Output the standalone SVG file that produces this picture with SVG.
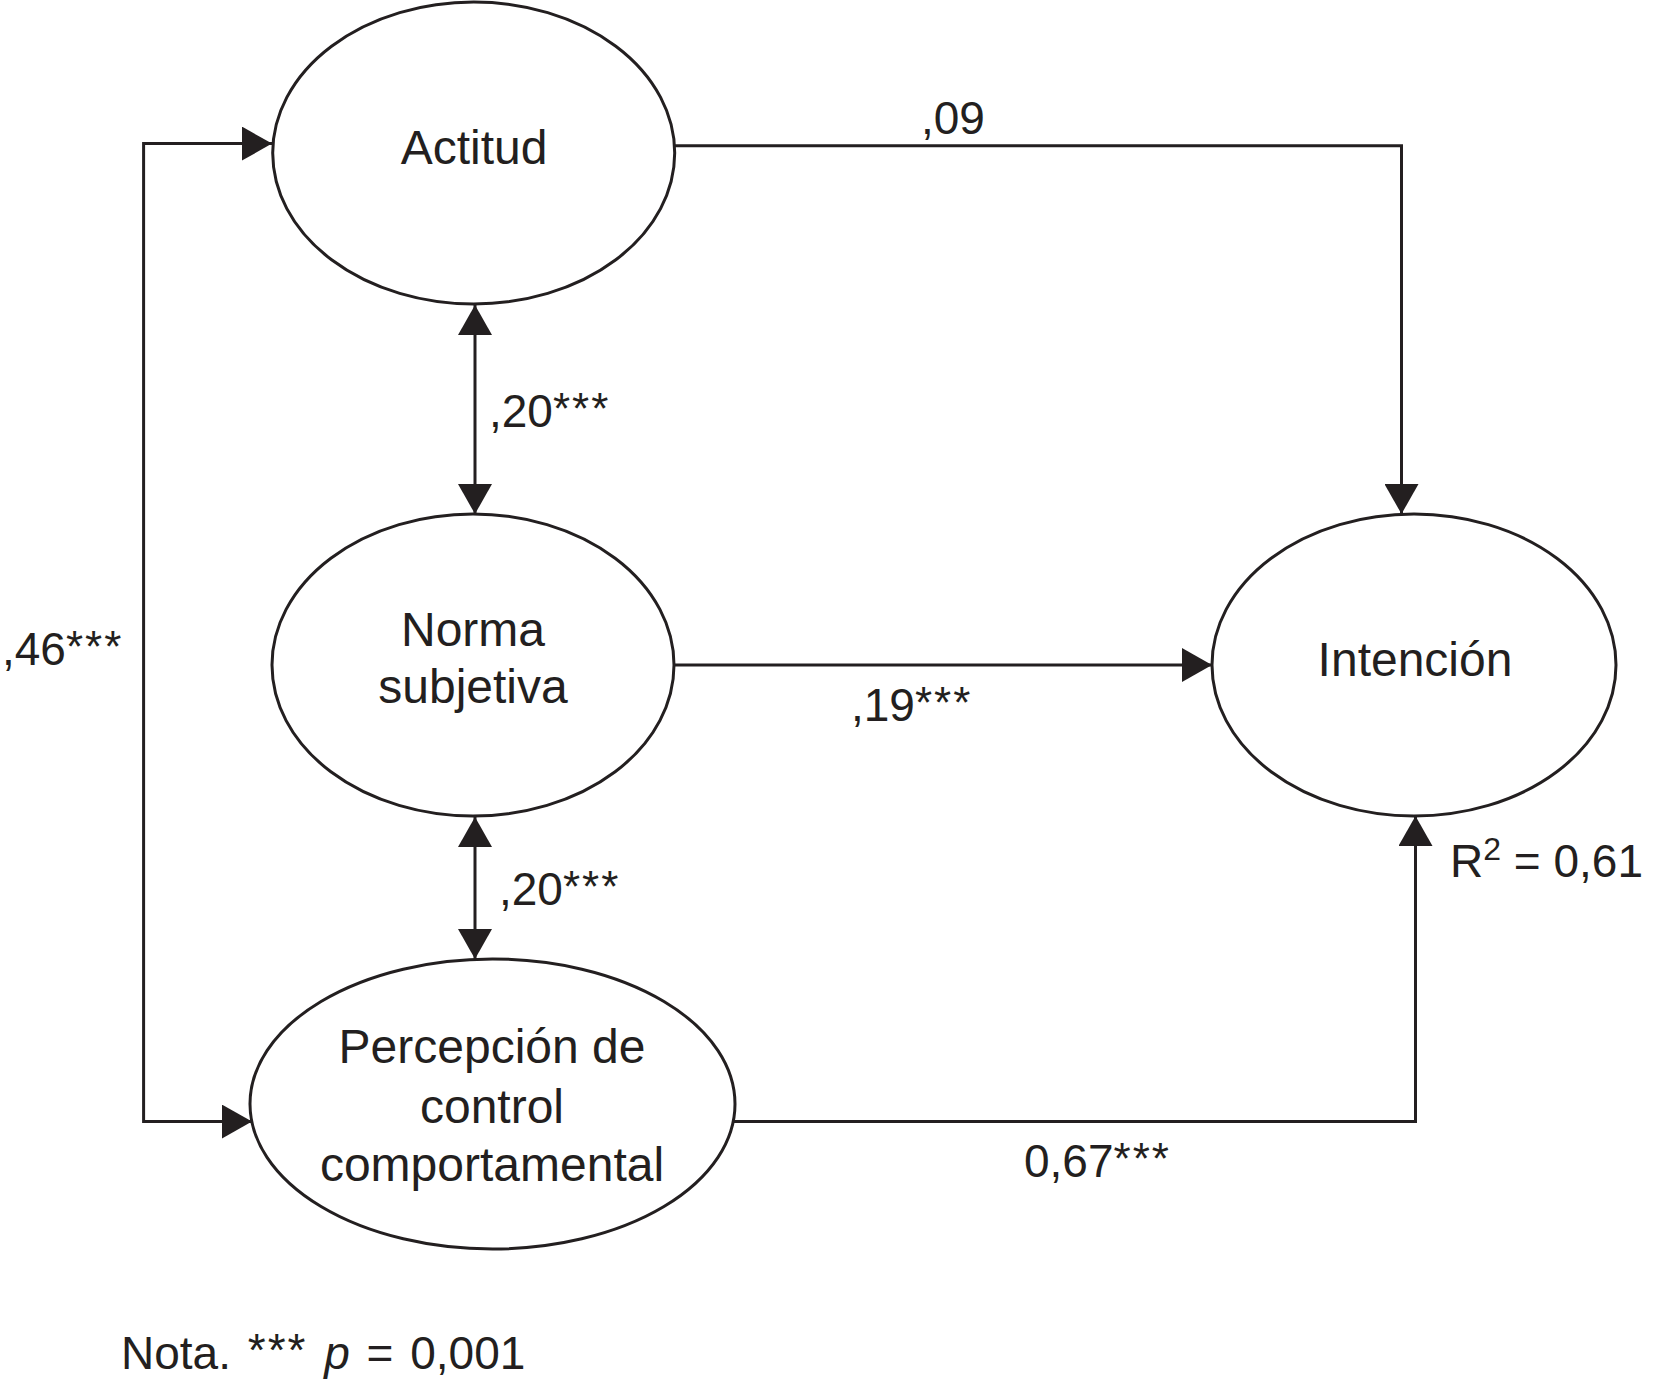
<svg xmlns="http://www.w3.org/2000/svg" width="1656" height="1392" viewBox="0 0 1656 1392">
<style>
.node ellipse{fill:#fff;stroke:#231f20;stroke-width:3}
.nt{font-family:"Liberation Sans",Arial,sans-serif;font-size:48px;fill:#231f20;text-anchor:middle}
.lbl{font-family:"Liberation Sans",Arial,sans-serif;font-size:46px;fill:#231f20}
.ast{font-size:44px;letter-spacing:2px}
#connectors path{fill:none;stroke:#231f20;stroke-width:3}
</style>
<defs>
<marker id="arr" markerUnits="userSpaceOnUse" markerWidth="30" markerHeight="34" refX="30" refY="17" orient="auto-start-reverse">
<path d="M0,0 L30,17 L0,34 z" fill="#231f20"/>
</marker>
</defs>
<rect width="1656" height="1392" fill="#fff"/>
<g id="connectors">
<path d="M272,143.6 H143.6 V1121.6 H252" marker-start="url(#arr)" marker-end="url(#arr)"/>
<path d="M675,145.7 H1401.5 V514" marker-end="url(#arr)"/>
<path d="M475,305 V514" marker-start="url(#arr)" marker-end="url(#arr)"/>
<path d="M674,665 H1212" marker-end="url(#arr)"/>
<path d="M475,817 V959" marker-start="url(#arr)" marker-end="url(#arr)"/>
<path d="M733,1121.6 H1415.5 V816" marker-end="url(#arr)"/>
</g>
<g id="actitud" class="node">
<ellipse cx="473.7" cy="153" rx="201" ry="151"/>
<text class="nt" x="474" y="164">Actitud</text>
</g>
<g id="norma" class="node">
<ellipse cx="473" cy="665" rx="201" ry="151"/>
<text class="nt" x="473" y="646">Norma</text>
<text class="nt" x="473" y="703">subjetiva</text>
</g>
<g id="intencion" class="node">
<ellipse cx="1414" cy="665" rx="202" ry="151"/>
<text class="nt" x="1415" y="676">Intención</text>
</g>
<g id="percepcion" class="node">
<ellipse cx="492.5" cy="1104" rx="242.5" ry="145"/>
<text class="nt" x="492" y="1063">Percepción de</text>
<text class="nt" x="492" y="1123">control</text>
<text class="nt" x="492" y="1181">comportamental</text>
</g>
<g id="labels">
<text class="lbl" x="921" y="134">,09</text>
<text class="lbl" x="489" y="427">,20<tspan class="ast" dy="-3">***</tspan></text>
<text class="lbl" x="851" y="721">,19<tspan class="ast" dy="-3">***</tspan></text>
<text class="lbl" x="499" y="905">,20<tspan class="ast" dy="-3">***</tspan></text>
<text class="lbl" x="1024" y="1177">0,67<tspan class="ast" dy="-3">***</tspan></text>
<text class="lbl" x="2" y="665">,46<tspan class="ast" dy="-3">***</tspan></text>
<text class="lbl" x="1450" y="877" font-size="44">R<tspan font-size="32" dy="-17">2</tspan><tspan dy="17"> = 0,61</tspan></text>
<text class="lbl" x="121" y="1369" font-size="49" word-spacing="4">Nota. <tspan font-size="46" dy="-3" letter-spacing="2">***</tspan><tspan dy="3"> </tspan><tspan font-style="italic">p</tspan> = 0,001</text>
</g>
</svg>
